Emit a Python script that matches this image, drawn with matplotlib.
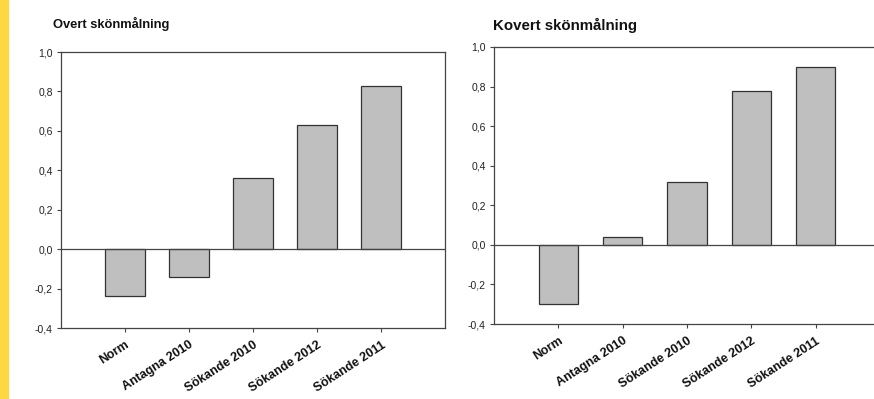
import matplotlib
matplotlib.use("Agg")
import matplotlib.pyplot as plt
from matplotlib.patches import Rectangle

plt.rcParams['font.family'] = ['Liberation Sans', 'DejaVu Sans']

# data
categories = ['Norm', 'Antagna 2010', 'Sökande 2010', 'Sökande 2012', 'Sökande 2011']
overt_values = [-0.24, -0.14, 0.36, 0.63, 0.83]
kovert_values = [-0.30, 0.04, 0.32, 0.78, 0.90]
y_ticks = [-0.4, -0.2, 0.0, 0.2, 0.4, 0.6, 0.8, 1.0]
titles = ['Overt skönmålning', 'Kovert skönmålning']

BAR_COLOR = '#c0bfc0'
EDGE_COLOR = '#333333'
SPINE_COLOR = '#444444'

fig = plt.figure(figsize=(8.74, 3.99), dpi=100)

# yellow strip on the left edge
fig.patches.append(Rectangle((0, 0), 8 / 874, 1, transform=fig.transFigure,
                             color='#ffd740', zorder=0))


def draw_panel(ax, values):
    x = range(len(categories))
    ax.bar(x, values, width=0.61, color=BAR_COLOR, edgecolor=EDGE_COLOR,
           linewidth=0.9, zorder=2)
    ax.axhline(0, color=SPINE_COLOR, linewidth=0.9, zorder=3)
    ax.set_xlim(-1, 5)
    ax.set_ylim(-0.4, 1.0)
    ax.set_yticks(y_ticks)
    ax.set_yticklabels([f'{v:.1f}'.replace('.', ',') for v in y_ticks],
                       fontsize=7.5, color='#222222')
    ax.set_xticks(list(x))
    ax.set_xticklabels(categories, rotation=33, ha='right',
                       rotation_mode='anchor', fontsize=9, fontweight='bold',
                       color='#111111')
    ax.tick_params(axis='both', direction='out', length=3, width=0.8,
                   color=SPINE_COLOR, pad=3)
    ax.tick_params(axis='x', pad=5)
    for sp in ax.spines.values():
        sp.set_color(SPINE_COLOR)
        sp.set_linewidth(0.9)


ax1 = fig.add_axes([61 / 874, 1 - 328 / 399, 384 / 874, 276 / 399])
draw_panel(ax1, overt_values)

ax2 = fig.add_axes([494 / 874, 1 - 324 / 399, 386 / 874, 277 / 399])
draw_panel(ax2, kovert_values)

fig.text(53 / 874, 1 - 24 / 399, titles[0], fontsize=9.3, fontweight='bold',
         va='center', ha='left', color='#111111')
fig.text(493 / 874, 1 - 25 / 399, titles[1], fontsize=10.8, fontweight='bold',
         va='center', ha='left', color='#111111')

fig.savefig('out.png', dpi=100)
